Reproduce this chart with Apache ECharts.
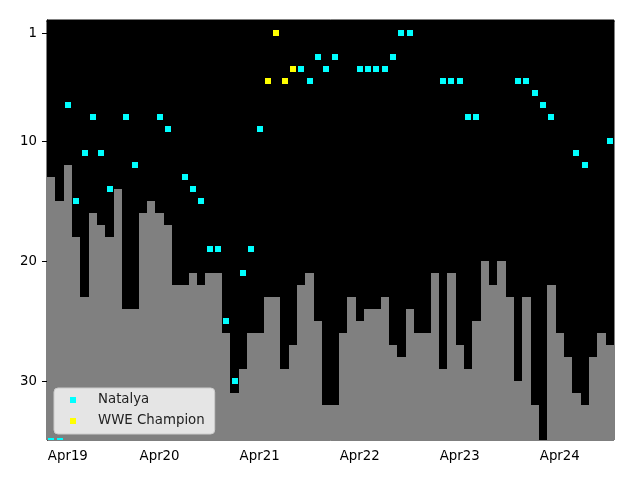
<!DOCTYPE html>
<html>
<head>
<meta charset="utf-8">
<script src="https://cdn.jsdelivr.net/npm/echarts@6/dist/echarts.min.js"></script>
<style>
html,body{margin:0;padding:0;background:#fff;}
#chart{width:640px;height:480px;}
</style>
</head>
<body>
<div id="chart"></div>
<script>
// Monthly categories (one month absent in the source data between Apr19 and Apr20)
var categories = ['Feb19','Mar19','Apr19','May19','Jun19','Jul19','Aug19','Sep19','Oct19','Nov19','Dec19','Jan20',
  'Mar20','Apr20','May20','Jun20','Jul20','Aug20','Sep20','Oct20','Nov20','Dec20','Jan21','Feb21','Mar21',
  'Apr21','May21','Jun21','Jul21','Aug21','Sep21','Oct21','Nov21','Dec21','Jan22','Feb22','Mar22',
  'Apr22','May22','Jun22','Jul22','Aug22','Sep22','Oct22','Nov22','Dec22','Jan23','Feb23','Mar23',
  'Apr23','May23','Jun23','Jul23','Aug23','Sep23','Oct23','Nov23','Dec23','Jan24','Feb24','Mar24',
  'Apr24','May24','Jun24','Jul24','Aug24','Sep24','Oct24'];

// Gray bars (rank level drawn from bottom)
var barValues = [13,15,12,18,23,16,17,18,14,24,24,16,
  15,16,17,22,22,21,22,21,21,26,31,29,26,
  26,23,23,29,27,22,21,25,32,32,26,23,
  25,24,24,23,27,28,24,26,26,21,29,21,
  27,29,25,20,22,20,23,30,23,32,null,22,
  26,28,31,32,28,26,27];

// Natalya ranking points
var natalyaValues = [35,35,7,15,11,8,11,14,null,8,12,null,
  null,8,9,null,13,14,15,19,19,25,30,21,19,
  9,null,null,null,null,4,5,3,4,3,null,null,
  4,4,4,4,3,1,1,null,null,null,5,5,
  5,8,8,null,null,null,null,5,5,6,7,8,
  null,null,11,12,null,null,10];

// Months as WWE Champion
var championValues = [null,null,null,null,null,null,null,null,null,null,null,null,
  null,null,null,null,null,null,null,null,null,null,null,null,null,
  null,5,1,5,4,null,null,null,null,null,null,null,
  null,null,null,null,null,null,null,null,null,null,null,null,
  null,null,null,null,null,null,null,null,null,null,null,null,
  null,null,null,null,null,null,null];

var yTicks = [1,10,20,30];
var yMin = -0.1, yMax = 34.9;
var FONT = 'DejaVu Sans';

function toPairs(arr){
  var out = [];
  arr.forEach(function(v, i){ if (v !== null) out.push([i, v]); });
  return out;
}

function renderBar(params, api){
  var i = api.value(0), v = api.value(1);
  var top = api.coord([i, v]);
  var bottom = api.coord([i, yMax]);
  var w = api.size([1, 0])[0];
  var x0 = Math.round(top[0] - w / 2), x1 = Math.round(top[0] + w / 2);
  var y0 = Math.round(top[1]), y1 = Math.round(bottom[1]);
  return {
    type: 'rect',
    shape: {x: x0, y: y0, width: x1 - x0, height: y1 - y0},
    style: {fill: '#808080'}
  };
}

function makePointRenderer(color){
  return function(params, api){
    var i = api.value(0), v = api.value(1);
    var c = api.coord([i, v]);
    var edge = api.coord([i, yMax])[1];
    var x0 = Math.round(c[0] - 3);
    var y0 = Math.round(c[1] - 3);
    var y1 = Math.min(y0 + 6, Math.round(edge));
    return {
      type: 'rect',
      shape: {x: x0, y: y0, width: 6, height: y1 - y0},
      style: {fill: color}
    };
  };
}

var chart = echarts.init(document.getElementById('chart'), null, {renderer:'canvas'});
chart.setOption({
  animation: false,
  backgroundColor: '#ffffff',
  grid: {left: 47, right: 26, top: 20, bottom: 40, show: true, backgroundColor: '#000000', borderColor: '#000000', borderWidth: 1},
  legend: {
    data: ['Natalya','WWE Champion'],
    orient: 'vertical',
    left: 54, top: 388,
    padding: [4, 10, 5, 16],
    itemGap: 5,
    itemWidth: 6, itemHeight: 6,
    icon: 'rect',
    backgroundColor: '#e5e5e5',
    borderColor: '#cccccc', borderWidth: 1, borderRadius: 4,
    textStyle: {fontFamily: FONT, fontSize: 13.33, color: '#222', lineHeight: 16, padding: [0,0,0,17]}
  },
  xAxis: {
    type: 'category',
    data: categories,
    boundaryGap: true,
    axisLine: {show: true, lineStyle: {color: '#000', width: 1}},
    axisTick: {show: true, interval: 0, alignWithLabel: true, length: 4, lineStyle: {color: '#000'}},
    axisLabel: {
      interval: function(i, v){ return v.indexOf('Apr') === 0; },
      fontFamily: FONT, fontSize: 13.33, color: '#000', margin: 10
    },
    splitLine: {show: false}
  },
  yAxis: {
    type: 'value',
    inverse: true,
    min: yMin, max: yMax,
    axisLine: {show: true, lineStyle: {color: '#000', width: 1}},
    axisTick: {show: true, customValues: yTicks, length: 5, lineStyle: {color: '#000'}},
    axisLabel: {customValues: yTicks, fontFamily: FONT, fontSize: 13.33, color: '#000', margin: 10},
    splitLine: {show: false}
  },
  series: [
    {
      name: 'level', type: 'custom', silent: true,
      renderItem: renderBar,
      encode: {x: 0, y: 1},
      data: toPairs(barValues),
      z: 1
    },
    {
      name: 'Natalya', type: 'custom',
      renderItem: makePointRenderer('#00ffff'),
      itemStyle: {color: '#00ffff'},
      encode: {x: 0, y: 1},
      data: toPairs(natalyaValues),
      z: 3
    },
    {
      name: 'WWE Champion', type: 'custom',
      renderItem: makePointRenderer('#ffff00'),
      itemStyle: {color: '#ffff00'},
      encode: {x: 0, y: 1},
      data: toPairs(championValues),
      z: 3
    }
  ]
});
</script>
</body>
</html>
